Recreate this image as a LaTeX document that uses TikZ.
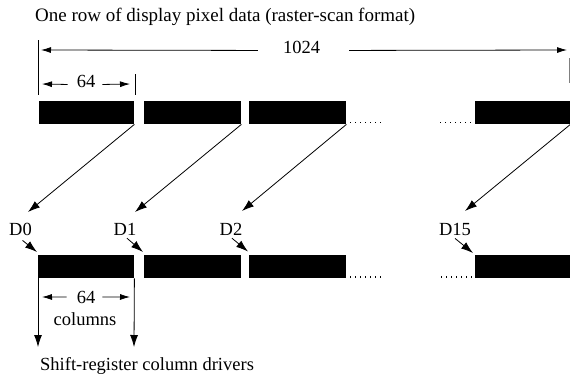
\documentclass[tikz,border=0pt]{standalone}
\usepackage{fontspec}
\setmainfont{Liberation Serif}
\usetikzlibrary{arrows.meta,calc}
\begin{document}
\begin{tikzpicture}[x=1pt,y=-1pt,
  bar/.style={fill=black,inner sep=0pt,minimum height=23pt,anchor=north west},
  lbl/.style={font=\fontsize{18.5}{20}\selectfont,inner sep=0pt},
  conn/.style={line width=0.8pt,-{Latex[length=12pt,width=8pt]}},
  dimarrow/.style={line width=0.8pt,-{Latex[length=10pt,width=6pt]}},
  dotrow/.style={line width=1.3pt,dash pattern=on 1.3pt off 3.7pt},
  tickline/.style={line width=0.5pt}]
\useasboundingbox (0,0) rectangle (570,376);
% title
\node[lbl,font=\fontsize{19}{21}\selectfont,anchor=base west] (title) at (35,21) {One row of display pixel data (raster-scan format)};
% top dimension lines
\node[lbl,anchor=base] (n1024) at (301.5,53) {1024};
\coordinate (a1024l) at (41,50);
\coordinate (a1024r) at (567,50);
\draw[dimarrow] ($(n1024.west)+(-25,3.5)$) -- (a1024l);
\draw[dimarrow] ($(n1024.east)+(29,3.5)$) -- (a1024r);
\node[lbl,anchor=base] (n64t) at (86,87) {64};
\coordinate (a64tl) at (42,84);
\coordinate (a64tr) at (130,84);
\draw[dimarrow] ($(n64t.west)+(-9,3.5)$) -- (a64tl);
\draw[dimarrow] ($(n64t.east)+(7,3.5)$) -- (a64tr);
\draw[tickline] (38,40) -- (38,95);
\draw[tickline] (135,74) -- (135,95);
\draw[tickline,gray] (569,58) -- (569,83);
% top bars
\node[bar,minimum width=95pt] (tb1) at (39,101) {};
\node[bar,minimum width=97pt] (tb2) at (144,101) {};
\node[bar,minimum width=97pt] (tb3) at (249,101) {};
\node[bar,minimum width=95pt] (tb4) at (475,101) {};
\draw[dotrow] (350,122.5) -- (381.3,122.5);
\draw[dotrow] (440,122.5) -- (471.3,122.5);
% labels
\node[lbl,anchor=base] (d0) at (20.5,235) {D0};
\node[lbl,anchor=base] (d1) at (125,235) {D1};
\node[lbl,anchor=base] (d2) at (231,235) {D2};
\node[lbl,anchor=base] (d15) at (455,235) {D15};
\coordinate (t0) at (28,212);
\coordinate (t1) at (135,212);
\coordinate (t2) at (242,211);
\coordinate (t15) at (465,211);
\draw[conn] (tb1.south east) -- (t0);
\draw[conn] (tb2.south east) -- (t1);
\draw[conn] (tb3.south east) -- (t2);
\draw[conn] (tb4.south east) -- (t15);
% bottom bars
\node[bar,minimum width=96pt] (bb1) at (38,255) {};
\node[bar,minimum width=97pt] (bb2) at (144,255) {};
\node[bar,minimum width=97pt] (bb3) at (249,255) {};
\node[bar,minimum width=95pt] (bb4) at (475,255) {};
\draw[dotrow] (350,277) -- (381.3,277);
\draw[dotrow] (441,277) -- (472.3,277);
\draw[conn] ($(d0.south)+(2,5)$) -- ($(bb1.north west)+(-1,-3)$);
\draw[conn] ($(d1.south)+(2,3)$) -- ($(bb2.north west)+(-1,-3)$);
\draw[conn] ($(d2.south)+(1,3)$) -- ($(bb3.north west)+(-1,-3.5)$);
\draw[conn] ($(d15.south)+(0,3)$) -- ($(bb4.north west)+(-2,-2)$);
% column drivers
\coordinate (v1) at (38,347);
\coordinate (v2) at (134,347);
\draw[conn] (bb1.south west) -- (v1);
\draw[conn] (bb1.south east) -- (v2);
\node[lbl,anchor=base] (n64b) at (86,303) {64};
\coordinate (a64bl) at (42,297);
\coordinate (a64br) at (130,297);
\draw[dimarrow] ($(n64b.west)+(-10,0)$) -- (a64bl);
\draw[dimarrow] ($(n64b.east)+(7,0)$) -- (a64br);
\node[lbl,anchor=base] (cols) at (85,325) {columns};
\node[lbl,anchor=base west] (drivers) at (40,370) {Shift-register column drivers};
\end{tikzpicture}
\end{document}
